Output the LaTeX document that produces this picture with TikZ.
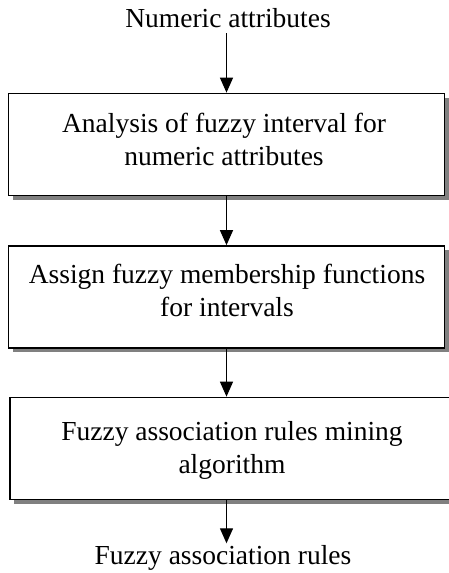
\documentclass[tikz,border=0pt]{standalone}
\usepackage{fontspec}
\setmainfont{Liberation Serif}
\usepackage{tikz}
\usetikzlibrary{arrows.meta,shadows}
\tikzset{
  stagebox/.style={draw=black, line width=1.7pt, fill=white, inner sep=0pt,
    minimum width=436pt, minimum height=102pt,
    drop shadow={shadow xshift=4pt, shadow yshift=-4pt, fill=black!50, opacity=1}},
  stagetxt/.style={anchor=north, align=center, inner sep=0pt, font=\fontsize{27.5}{33}\selectfont},
  endtxt/.style={inner sep=0pt, font=\fontsize{27.5}{33}\selectfont},
  flow/.style={draw=black, line width=1.3pt, -{Triangle[width=13pt,length=15pt]}}
}

\begin{document}
\begin{tikzpicture}[x=1pt,y=-1pt]
  \useasboundingbox (0,0) rectangle (449,573);
  \clip (0,0) rectangle (449,573);

  % stages
  \node[stagebox] (analysis) at (226.5,144.5) {};
  \node[stagebox] (assign) at (226.5,297) {};
  \node[stagebox, minimum width=444pt] (mining) at (232,448.5) {};

  \node[endtxt] (numattr) at (228,18) {Numeric attributes};
  \node[endtxt] (rules) at (223,558) {Fuzzy association rules};

  \node[stagetxt] (analysistxt) at (224,113) {Analysis of fuzzy interval for\\numeric attributes};
  \node[stagetxt] (assigntxt) at (227,264) {Assign fuzzy membership functions\\for intervals};
  \node[stagetxt] (miningtxt) at (232,421) {Fuzzy association rules mining\\algorithm};

  % arrows
  \draw[flow] (analysis.north |- 0,33) -- (analysis.north);
  \draw[flow] (analysis.south) -- (assign.north);
  \draw[flow] (assign.south) -- (assign.south |- mining.north);
  \draw[flow] (assign.south |- mining.south) -- ([yshift=2pt]assign.south |- rules.north);
\end{tikzpicture}
\end{document}
